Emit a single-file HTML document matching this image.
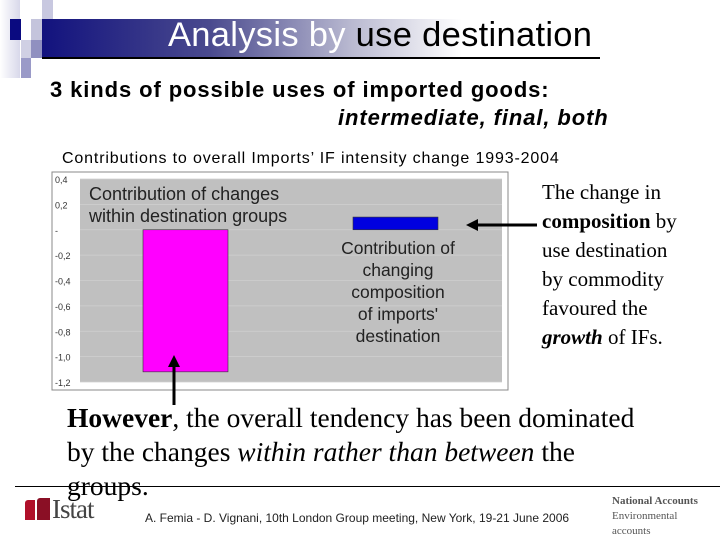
<!DOCTYPE html>
<html><head><meta charset="utf-8"><style>
body{margin:0;width:720px;height:540px;background:#fff;position:relative;overflow:hidden;font-family:"Liberation Sans",sans-serif}
.a{position:absolute}
.serif{font-family:"Liberation Serif",serif}
</style></head><body>
<div class="a" style="left:0;top:0;width:20px;height:78px;background:linear-gradient(90deg,#fff,#d8d8ea)"></div>
<div class="a" style="left:10px;top:19px;width:11px;height:21px;background:#0a0a80"></div>
<div class="a" style="left:42px;top:0;width:11px;height:19px;background:#c8c8e0"></div>
<div class="a" style="left:31px;top:19px;width:11px;height:21px;background:#c4c4dc"></div>
<div class="a" style="left:21px;top:40px;width:10px;height:18px;background:#d0d0e4"></div>
<div class="a" style="left:31px;top:40px;width:11px;height:18px;background:#9090c0"></div>
<div class="a" style="left:21px;top:58px;width:10px;height:20px;background:#9a9ac8"></div>
<div class="a" style="left:42px;top:19px;width:560px;height:39px;background:linear-gradient(90deg,#12127e 0%,#4a4a8e 30%,#b8b8d0 55%,#fff 75%)"></div>
<div class="a" style="left:42px;top:57px;width:558px;height:2px;background:#000"></div>
<div class="a" style="left:168px;top:16px;font-size:34.5px;letter-spacing:0.3px;color:#000;white-space:nowrap"><span style="color:#fff">Analysis by</span> use destination</div>
<div class="a" style="left:50px;top:77px;font-size:22px;letter-spacing:0.9px;font-weight:bold;white-space:nowrap">3 kinds of possible uses of imported goods:</div>
<div class="a" style="left:338px;top:105px;font-size:22px;letter-spacing:0.9px;font-weight:bold;font-style:italic;white-space:nowrap">intermediate, final, both</div>
<div class="a" style="left:62px;top:150px;font-size:16px;letter-spacing:0.85px;white-space:nowrap">Contributions to overall Imports’ IF intensity change 1993-2004</div>
<svg class="a" style="left:0;top:0" width="720" height="540">
<rect x="52" y="172" width="456" height="218" fill="#fff" stroke="#888" stroke-width="1"/>
<rect x="80" y="179" width="422" height="203" fill="#c0c0c0"/>
<g id="grid"></g><g id="ticks"></g><g id="bars"></g>
<text x="89" y="200" font-size="18" fill="#222" font-family="Liberation Sans">Contribution of changes</text>
<text x="89" y="222" font-size="18" fill="#222" font-family="Liberation Sans">within destination groups</text>
<g font-size="17.5" fill="#222" font-family="Liberation Sans" text-anchor="middle">
<text x="398" y="254">Contribution of</text><text x="398" y="276">changing</text><text x="398" y="298">composition</text><text x="398" y="320">of imports'</text><text x="398" y="342">destination</text></g>
<line x1="470" y1="225" x2="537" y2="225" stroke="#000" stroke-width="3"/>
<polygon points="466,225 478,219 478,231" fill="#000"/>
<line x1="174" y1="360" x2="174" y2="405" stroke="#000" stroke-width="3"/>
<polygon points="174,355 168,367 180,367" fill="#000"/>
</svg>
<script>
const categories=["within destination groups","changing composition"];
const values=[-1.12,0.1];
const tickVals=[0.4,0.2,0,-0.2,-0.4,-0.6,-0.8,-1.0,-1.2];
const tickLabels=["0,4","0,2","-","-0,2","-0,4","-0,6","-0,8","-1,0","-1,2"];
const NS="http://www.w3.org/2000/svg";
const y0=179,y1=382,vmax=0.4,vmin=-1.2;
function y(v){return y0+(vmax-v)/(vmax-vmin)*(y1-y0);}
const xs=[143,353],bw=85;
const g=document.getElementById('grid'),t=document.getElementById('ticks'),b=document.getElementById('bars');
tickVals.forEach((v,i)=>{
 const l=document.createElementNS(NS,'line');
 
 
 l.setAttribute('x1',80);l.setAttribute('x2',502);l.setAttribute('y1',y(v));l.setAttribute('y2',y(v));
 l.setAttribute('stroke','#cfcfcf');l.setAttribute('stroke-width','0.8');g.appendChild(l);
 const tx=document.createElementNS(NS,'text');
 
 
 tx.setAttribute('x',55);tx.setAttribute('y',y(v)+4);tx.setAttribute('font-size','9');tx.setAttribute('fill','#333');
 tx.textContent=tickLabels[i];t.appendChild(tx);
});
values.forEach((v,i)=>{
 const r=document.createElementNS(NS,'rect');
 
 
 r.setAttribute('x',xs[i]);r.setAttribute('width',bw);
 r.setAttribute('y',Math.min(y(0),y(v)));r.setAttribute('height',Math.abs(y(v)-y(0)));
 r.setAttribute('fill',i==0?'#ff00ff':'#0000e0');r.setAttribute('stroke','#333');r.setAttribute('stroke-width','0.6');
 b.appendChild(r);
});
</script>
<div class="a serif" style="left:542px;top:178px;font-size:21px;line-height:29px;white-space:nowrap">The change in<br><b>composition</b> by<br>use destination<br>by commodity<br>favoured the<br><b><i>growth</i></b> of IFs.</div>
<div class="a serif" style="left:67px;top:401px;width:595px;font-size:27.5px;line-height:34px"><b>However</b>, the overall tendency has been dominated by the changes <i>within rather than between</i> the groups.</div>
<div class="a" style="left:15px;top:486px;width:705px;height:1px;background:#000"></div>
<div class="a" style="left:25px;top:500px;width:10px;height:20px;background:#b0102a;border-radius:3px 0 0 0"></div>
<div class="a" style="left:37px;top:498px;width:13px;height:22px;background:#8a0f25;border-radius:3px 0 0 0"></div>
<div class="a serif" style="left:52px;top:494px;font-size:27px;color:#444;letter-spacing:-1px">Istat</div>
<div class="a" style="left:145px;top:511px;font-size:12px;color:#222">A. Femia - D. Vignani, 10th London Group meeting, New York, 19-21 June 2006</div>
<div class="a serif" style="left:612px;top:494px;font-size:11px;line-height:15px;color:#555"><b>National Accounts</b><br>Environmental<br>accounts</div>
</body></html>
